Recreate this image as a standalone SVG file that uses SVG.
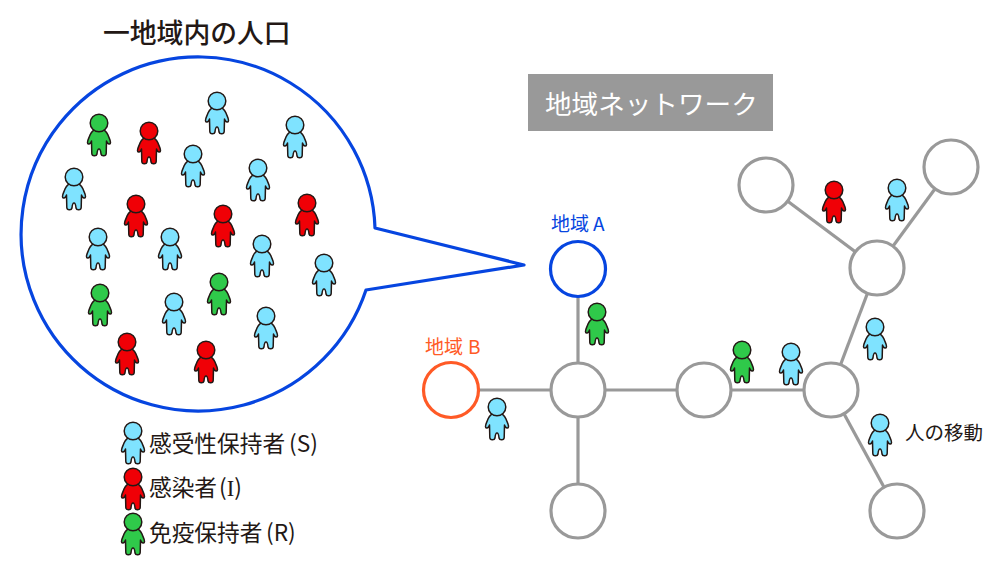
<svg xmlns="http://www.w3.org/2000/svg" width="1000" height="568" viewBox="0 0 1000 568">
<style>
text{font-family:"Noto Sans CJK JP","Noto Sans",sans-serif;fill:#231815}
.n{fill:#fff;stroke:#999;stroke-width:3.2}
.c line{stroke:#999;stroke-width:3.2}
.fig{stroke:#231815;stroke-width:1.5;stroke-linejoin:round}
.s{fill:#7fe3ff}.i{fill:#f00006}.r{fill:#2fc94a}
.leg{font-size:22.7px}
</style>
<defs>
<g id="p">
<path d="M-4,6 C-6,8 -8,9 -9,12 C-10,15 -11.5,17 -11.5,19.5 C-11.5,21.5 -9.5,21.5 -8.5,20 L-7.5,18 L-7.2,30.5 C-7,33.5 -2.5,33.5 -2,31 C-1.8,28.5 -1.5,26 0,26 C1.5,26 1.8,28.5 2,31 C2.5,33.5 7,33.5 7.2,30.5 L7.5,18 L8.5,20 C9.5,21.5 11.5,21.5 11.5,19.5 C11.5,17 10,15 9,12 C8,9 6,8 4,6 Z"/>
<circle r="8.8"/>
</g>
</defs>
<rect width="1000" height="568" fill="#fff"/>
<text x="103" y="43" font-size="26.8px" font-weight="500">一地域内の人口</text>
<g id="banner"><rect x="528" y="74" width="245" height="57" fill="#999"/><text x="545" y="114" font-size="26.6px" style="fill:#fff">地域ネットワーク</text></g>
<g id="callout"><path d="M375,228 L524,265 L366,290 A177,177 0 1 1 375,228 Z" fill="#fff" stroke="#0645e0" stroke-width="3.2" stroke-linejoin="round"/></g>
<g id="connectors" class="c">
<line x1="578" y1="269" x2="578" y2="511"/>
<line x1="451" y1="390" x2="831" y2="390"/>
<line x1="831" y1="390" x2="877" y2="268"/>
<line x1="831" y1="390" x2="897" y2="511"/>
<line x1="877" y1="268" x2="766" y2="185"/>
<line x1="877" y1="268" x2="951" y2="167"/>
</g>
<g id="region-a"><circle cx="578" cy="269" r="27.5" fill="#fff" stroke="#0645e0" stroke-width="3.2"/><text x="551" y="231" font-size="19px" style="fill:#0645e0">地域 <tspan x="593">A</tspan></text></g>
<g id="region-b"><circle cx="451" cy="390" r="27.5" fill="#fff" stroke="#ff5a26" stroke-width="3.2"/><text x="425" y="354" font-size="19px" style="fill:#ff5a26">地域 <tspan x="468">B</tspan></text></g>
<g id="node-1"><circle class="n" cx="578" cy="390" r="27"/></g>
<g id="node-2"><circle class="n" cx="704" cy="390" r="27"/></g>
<g id="node-3"><circle class="n" cx="831" cy="390" r="27"/></g>
<g id="node-4"><circle class="n" cx="578" cy="511" r="27"/></g>
<g id="node-5"><circle class="n" cx="897" cy="511" r="27"/></g>
<g id="node-6"><circle class="n" cx="877" cy="268" r="27"/></g>
<g id="node-7"><circle class="n" cx="766" cy="185" r="27"/></g>
<g id="node-8"><circle class="n" cx="951" cy="167" r="27"/></g>
<g id="population" class="fig">
<use href="#p" class="r" x="99" y="123"/>
<use href="#p" class="i" x="149" y="131"/>
<use href="#p" class="s" x="74" y="177"/>
<use href="#p" class="i" x="136" y="204"/>
<use href="#p" class="s" x="217" y="101"/>
<use href="#p" class="s" x="295" y="125"/>
<use href="#p" class="s" x="193" y="154"/>
<use href="#p" class="s" x="258" y="168"/>
<use href="#p" class="i" x="307" y="203"/>
<use href="#p" class="i" x="223" y="214"/>
<use href="#p" class="s" x="98" y="237"/>
<use href="#p" class="s" x="170" y="237"/>
<use href="#p" class="s" x="262" y="244"/>
<use href="#p" class="s" x="324" y="263"/>
<use href="#p" class="r" x="219" y="282"/>
<use href="#p" class="r" x="100" y="293"/>
<use href="#p" class="s" x="174" y="302"/>
<use href="#p" class="s" x="266" y="316"/>
<use href="#p" class="i" x="127" y="342"/>
<use href="#p" class="i" x="206" y="350"/>
</g>
<g id="travellers" class="fig">
<use href="#p" class="i" x="834" y="190"/>
<use href="#p" class="s" x="897" y="188"/>
<use href="#p" class="r" x="597" y="312"/>
<use href="#p" class="s" x="497" y="407"/>
<use href="#p" class="r" x="742" y="350"/>
<use href="#p" class="s" x="791" y="352"/>
<use href="#p" class="s" x="875" y="327"/>
<use href="#p" class="s" x="880" y="423"/>
</g>
<text x="905" y="440" font-size="19.5px">人の移動</text>
<g id="legend">
<g class="fig">
<use href="#p" class="s" x="133" y="431"/>
<use href="#p" class="i" x="133" y="477"/>
<use href="#p" class="r" x="133" y="522"/>
</g>
<text class="leg" x="149" y="452">感受性保持者<tspan x="289">(S)</tspan></text>
<text class="leg" x="149" y="496">感染者<tspan x="219">(<tspan font-family="Liberation Serif">I</tspan>)</tspan></text>
<text class="leg" x="149" y="541">免疫保持者<tspan x="266">(R)</tspan></text>
</g>
</svg>
